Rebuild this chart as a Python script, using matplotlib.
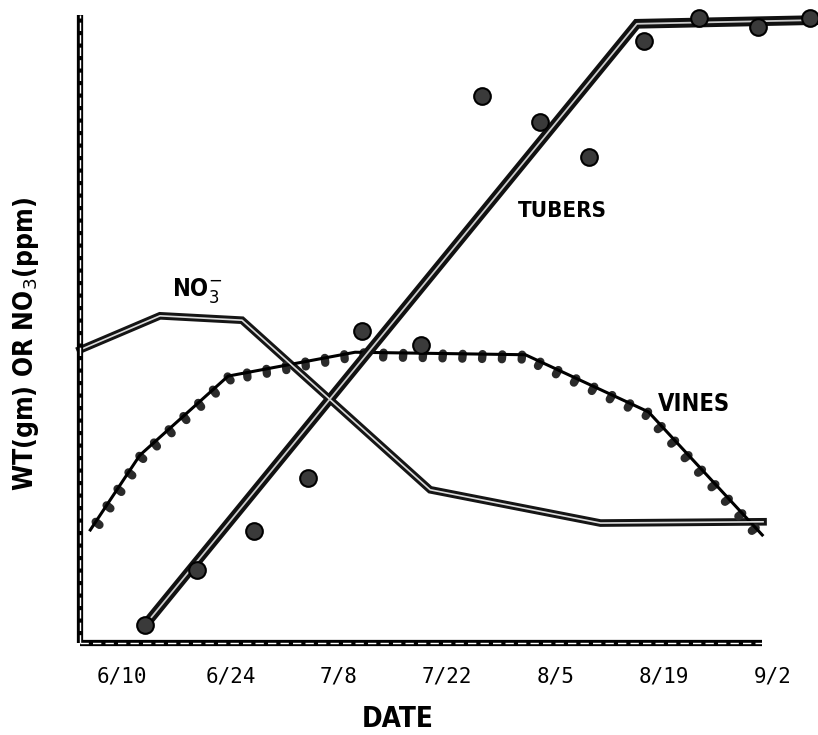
import matplotlib
matplotlib.use("Agg")
import matplotlib.pyplot as plt
import matplotlib.patheffects as pe
from matplotlib import font_manager

# ---- data (x in days after 6/10, y in relative units 0-100) ----
tick_days = [0, 14, 28, 42, 56, 70, 84]
tick_labels = ["6/10", "6/24", "7/8", "7/22", "8/5", "8/19", "9/2"]

no3_x = [-5.4, 4.9, 15.5, 39.8, 61.8, 82.8]
no3_y = [46.7, 52.1, 51.4, 24.4, 19.1, 19.3]

vines_x = [-4.1, 2.3, 13.7, 30.1, 52.1, 68.0, 82.7]
vines_y = [18.0, 29.9, 42.5, 46.3, 45.9, 36.8, 17.2]

tubers_line_x = [3.0, 66.5, 89.9]
tubers_line_y = [2.9, 98.6, 99.2]

tubers_pts_x = [3.0, 9.7, 17.1, 24.0, 31.0, 38.6, 46.5, 54.0, 60.3, 67.4, 74.5, 82.2, 88.9]
tubers_pts_y = [2.9, 11.6, 17.8, 26.3, 49.7, 47.5, 87.1, 83.0, 77.4, 95.9, 99.5, 98.1, 99.5]

# choose a condensed font if available
fl = font_manager.fontManager.ttflist
names = set(f.name for f in fl)
stretch = "normal"
if "Liberation Sans Narrow" in names:
    cond = "Liberation Sans Narrow"
elif any(f.name == "DejaVu Sans" and str(f.stretch) in ("condensed", "semi-condensed", "500", "300")
         for f in fl):
    cond = "DejaVu Sans"
    stretch = "condensed"
elif "Roboto Condensed" in names:
    cond = "Roboto Condensed"
else:
    cond = "DejaVu Sans"
cond_fam = [cond, "DejaVu Sans"]
tkw = dict(family=cond_fam, fontweight="bold", fontstretch=stretch)

W, H = 818, 735
fig = plt.figure(figsize=(W / 100, H / 100), dpi=100)
ax = fig.add_axes([80 / W, (H - 643) / H, (W - 80) / W, (643 - 15) / H])
ax.set_xlim(-5.43, 89.9)
ax.set_ylim(0, 100)
for s in ax.spines.values():
    s.set_visible(False)
ax.set_yticks([])
ax.set_xticks(tick_days)
ax.set_xticklabels(tick_labels, family=["DejaVu Sans Mono"], fontsize=15)
ax.tick_params(axis="x", length=0, pad=17)

# hand-drawn double spines
xr = (762 - 80) / (W - 80)
for xs, ys in [([0, 0], [0, 1]), ([0, xr], [0, 0])]:
    ax.plot(xs, ys, transform=ax.transAxes, color="black", lw=4.5,
            clip_on=False, solid_capstyle="butt", zorder=5)
    ax.plot(xs, ys, transform=ax.transAxes, color="white", lw=1.0,
            clip_on=False, dashes=(6, 3), zorder=6)

# NO3 line (double line)
ax.plot(no3_x, no3_y, color="#151515", lw=5.5, clip_on=False,
        solid_joinstyle="miter", zorder=3)
ax.plot(no3_x, no3_y, color="#dddddd", lw=1.2, clip_on=False, zorder=3.1)

# Vines scalloped line
ax.plot(vines_x, vines_y, color="black", lw=2.2, clip_on=False, zorder=3,
        path_effects=[pe.withTickedStroke(spacing=14, angle=-95, length=0.25,
                                          linewidth=6, foreground="#2a2a2a",
                                          capstyle="round")])

# Tubers line (double line) and points
ax.plot(tubers_line_x, tubers_line_y, color="#111111", lw=7, clip_on=False,
        solid_joinstyle="miter", zorder=3)
ax.plot(tubers_line_x, tubers_line_y, color="#cccccc", lw=1.3, clip_on=False, zorder=3.1)
ax.plot(tubers_pts_x, tubers_pts_y, "o", ms=12, mfc="#3a3a3a", mec="black",
        mew=1.5, clip_on=False, zorder=4)

# labels
fig.text(398 / W, 1 - 719 / H, "DATE", ha="center", va="center", fontsize=20, **tkw)
fig.text(562 / W, 1 - 211 / H, "TUBERS", ha="center", va="center", fontsize=16, **tkw)
fig.text(694 / W, 1 - 404 / H, "VINES", ha="center", va="center", fontsize=17, **tkw)
fig.text(172 / W, 1 - 296 / H, r"NO$_3^{-}$", ha="left", va="baseline", fontsize=17, **tkw)
fig.text(26 / W, 1 - 344 / H, r"WT(gm) OR NO$_3$(ppm)", ha="center", va="center",
         rotation=90, fontsize=19, **tkw)

fig.savefig("out.png", dpi=100)
